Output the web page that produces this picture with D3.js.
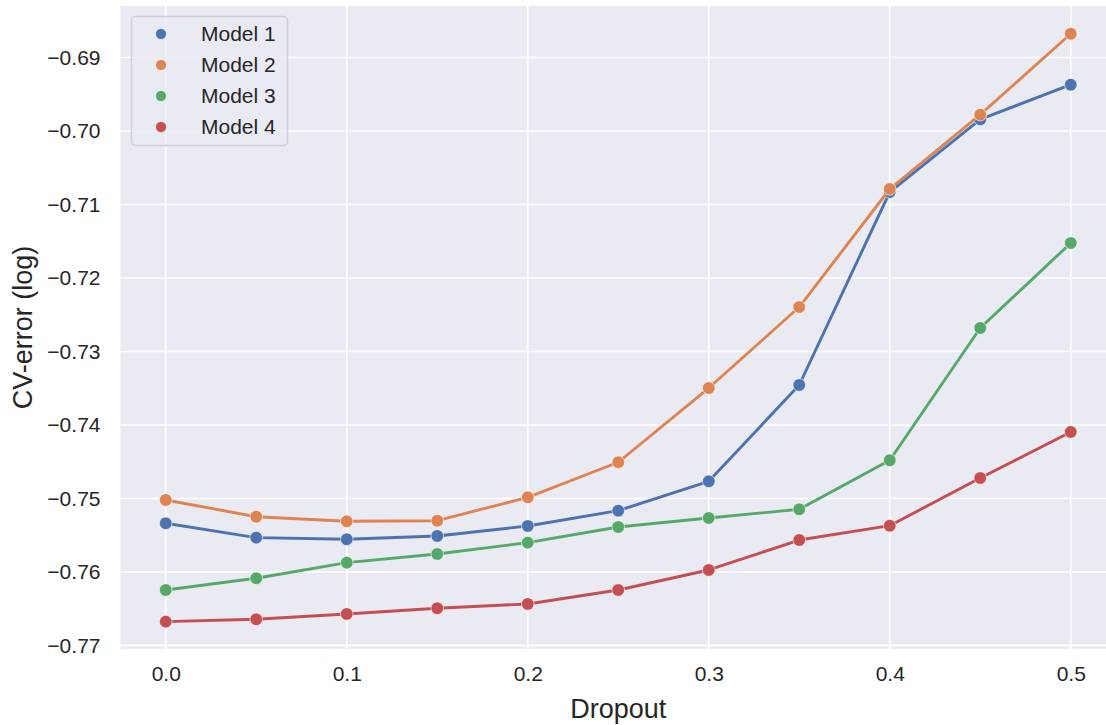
<!DOCTYPE html>
<html lang="en">
<head>
    <meta charset="UTF-8">
    <title>CV-error vs Dropout</title>
    <style>
        body { margin: 0; background: #fff; }
        text { font-family: Arial, "Liberation Sans", sans-serif; fill: #262626; }
    </style>
</head>
<body>
    <svg width="1106" height="725"></svg>
    <script src="https://d3js.org/d3.v7.min.js"></script>
    <script>
        // data
        var dropout = [0.0, 0.05, 0.1, 0.15, 0.2, 0.25, 0.3, 0.35, 0.4, 0.45, 0.5];
        var seriesNames = ["Model 1", "Model 2", "Model 3", "Model 4"];
        var model1 = [-0.75337, -0.75533, -0.75555, -0.75510, -0.75374, -0.75166, -0.74766, -0.73456, -0.70830, -0.69841, -0.69370];
        var model2 = [-0.75020, -0.75248, -0.75310, -0.75302, -0.74984, -0.74507, -0.73497, -0.72395, -0.70789, -0.69778, -0.68676];
        var model3 = [-0.76245, -0.76086, -0.75873, -0.75755, -0.75601, -0.75388, -0.75265, -0.75147, -0.74480, -0.72680, -0.71524];
        var model4 = [-0.76676, -0.76644, -0.76571, -0.76494, -0.76435, -0.76245, -0.75973, -0.75565, -0.75370, -0.74721, -0.74095];
        var xTicks = [0.0, 0.1, 0.2, 0.3, 0.4, 0.5];
        var yTicks = [-0.77, -0.76, -0.75, -0.74, -0.73, -0.72, -0.71, -0.70, -0.69];

        var allSeries = [model1, model2, model3, model4];
        var colors = ["#4c72b0", "#dd8452", "#55a868", "#c44e52"];

        var svg = d3.select("svg"),
            plot = {left: 120.5, right: 1116, top: 6, bottom: 649};

        var x = d3.scaleLinear().domain([-0.025, 0.525]).range([plot.left, plot.right]);
        var y = d3.scaleLinear().domain([-0.77048, -0.68299]).range([plot.bottom, plot.top]);

        svg.append("rect")
            .attr("x", plot.left).attr("y", plot.top)
            .attr("width", plot.right - plot.left).attr("height", plot.bottom - plot.top)
            .attr("fill", "#eaeaf2");

        // grid lines
        var grid = svg.append("g").attr("stroke", "#fff").attr("stroke-width", 1.7);
        grid.selectAll("line.gx").data(xTicks).enter().append("line")
            .attr("x1", function(d){ return x(d); }).attr("x2", function(d){ return x(d); })
            .attr("y1", plot.top).attr("y2", plot.bottom);
        grid.selectAll("line.gy").data(yTicks).enter().append("line")
            .attr("y1", function(d){ return y(d); }).attr("y2", function(d){ return y(d); })
            .attr("x1", plot.left).attr("x2", plot.right);

        // axes (labels only, seaborn style)
        var fmtY = function(d){ return d3.format(".2f")(d).replace("-", "\u2212"); };
        var xAxis = svg.append("g")
            .attr("transform", "translate(0," + plot.bottom + ")")
            .call(d3.axisBottom(x).tickValues(xTicks).tickFormat(d3.format(".1f")).tickSize(0).tickPadding(17));
        var yAxis = svg.append("g")
            .attr("transform", "translate(" + plot.left + ",0)")
            .call(d3.axisLeft(y).tickValues(yTicks).tickFormat(fmtY).tickSize(0).tickPadding(20));
        [xAxis, yAxis].forEach(function(a){
            a.select(".domain").remove();
            a.attr("font-size", 21).attr("font-family", "Arial, 'Liberation Sans', sans-serif");
            a.selectAll("text").attr("fill", "#262626");
        });

        svg.append("text")
            .attr("x", (plot.left + plot.right) / 2).attr("y", 718)
            .attr("text-anchor", "middle").attr("font-size", 27)
            .text("Dropout");
        svg.append("text")
            .attr("transform", "translate(32," + (plot.top + plot.bottom) / 2 + ") rotate(-90)")
            .attr("text-anchor", "middle").attr("font-size", 27)
            .text("CV-error (log)");

        // lines and points
        var line = d3.line()
            .x(function(d, i){ return x(dropout[i]); })
            .y(function(d){ return y(d); });

        var series = svg.append("g").selectAll("g")
            .data(allSeries).enter().append("g");

        series.append("path")
            .attr("d", line)
            .attr("fill", "none")
            .attr("stroke", function(d, i){ return colors[i]; })
            .attr("stroke-width", 2.9)
            .attr("stroke-linejoin", "round");

        series.each(function(d, si){
            d3.select(this).selectAll("circle")
                .data(d).enter().append("circle")
                .attr("cx", function(v, i){ return x(dropout[i]); })
                .attr("cy", function(v){ return y(v); })
                .attr("r", 6.3)
                .attr("fill", colors[si])
                .attr("stroke", "#fff")
                .attr("stroke-width", 0.6);
        });

        // legend
        var legend = svg.append("g").attr("transform", "translate(131,16)");
        legend.append("rect")
            .attr("x", 0.5).attr("y", 0.5)
            .attr("width", 156).attr("height", 129)
            .attr("rx", 4)
            .attr("fill", "#eaeaf2").attr("fill-opacity", 0.8)
            .attr("stroke", "#d0d0d6").attr("stroke-width", 1.5);

        var items = legend.selectAll("g.item").data(seriesNames).enter().append("g")
            .attr("transform", function(d, i){ return "translate(0," + (18 + i * 31) + ")"; });
        items.append("circle")
            .attr("cx", 30).attr("cy", 0).attr("r", 5.5)
            .attr("fill", function(d, i){ return colors[i]; })
            .attr("stroke", "#fff").attr("stroke-width", 0.6);
        items.append("text")
            .attr("x", 70).attr("y", 0).attr("dy", "0.35em")
            .attr("font-size", 21)
            .text(function(d){ return d; });
    </script>
</body>
</html>
